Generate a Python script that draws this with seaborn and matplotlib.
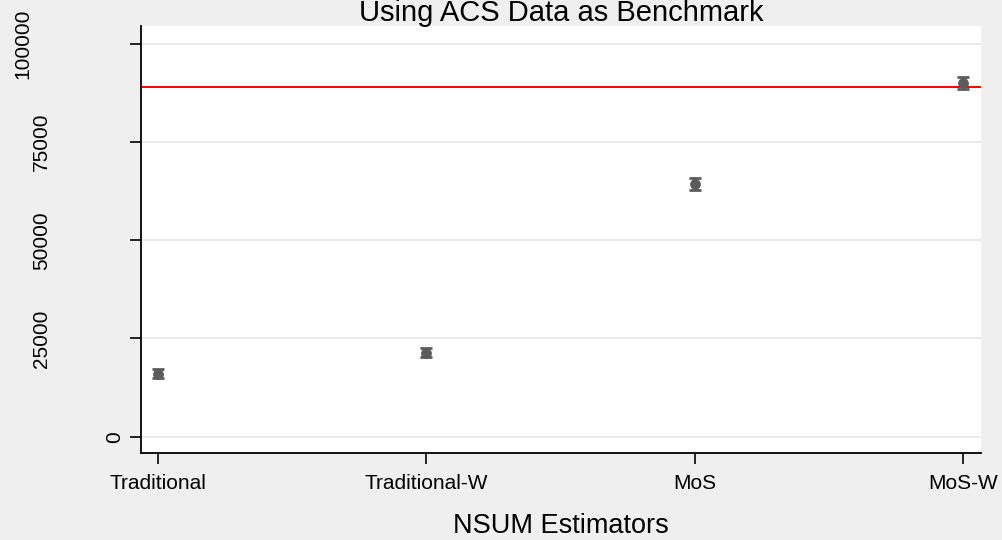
import numpy as np
import pandas as pd
import matplotlib
matplotlib.use("Agg")
import matplotlib.pyplot as plt
import matplotlib.transforms as mtransforms
import seaborn as sns

# ---- data ----
estimators = ["Traditional", "Traditional-W", "MoS", "MoS-W"]
estimates = [16000, 21400, 64300, 90000]
ci_halfwidth = [1100, 1100, 1500, 1600]
benchmark = 89000
y_ticks = [0, 25000, 50000, 75000, 100000]
y_tick_labels = ["0", "25000", "50000", "75000", "100000"]
title_text = "Using ACS Data as Benchmark"
x_label = "NSUM Estimators"

df = pd.DataFrame({"estimator": estimators, "estimate": estimates, "ci": ci_halfwidth})
df["pos"] = np.arange(len(df))

sns.set_theme(style="white")
plt.rcParams["font.family"] = ["Liberation Sans", "DejaVu Sans"]

bg = "#efefef"
fig = plt.figure(figsize=(10.03, 5.40), dpi=100, facecolor=bg)
W, H = 1003, 540
ax = fig.add_axes([141 / W, 1 - 453 / H, (981 - 141) / W, (453 - 26) / H])
ax.set_facecolor("white")

# grid lines
for yt in y_ticks:
    ax.axhline(yt, color="#e6e6e6", lw=1.2, zorder=0)

# benchmark line
ax.axhline(benchmark, color="#ff0000", lw=1.4, zorder=1)

# CI bars
ax.errorbar(df["pos"], df["estimate"], yerr=df["ci"], fmt="none",
            ecolor="#5c5c5c", elinewidth=1.4, capsize=4.2, capthick=2.0, zorder=2)
# points
sns.scatterplot(data=df, x="pos", y="estimate", ax=ax, color="#5c5c5c",
                s=52, edgecolor="#5c5c5c", linewidth=0.5, zorder=3, legend=False)

ax.set_xlim(-0.0645, 3.068)
ax.set_ylim(-4150, 104500)

ax.set_xticks(df["pos"])
ax.set_xticklabels(estimators, fontsize=15)
ax.set_yticks(y_ticks)
ax.set_yticklabels(y_tick_labels, fontsize=15, rotation=90, ha="center", va="center")

ax.tick_params(axis="both", direction="out", length=8, width=1.2, color="black",
               bottom=True, left=True, labelcolor="black")
ax.tick_params(axis="x", pad=7)
ax.tick_params(axis="y", pad=0)

for s in ["top", "right"]:
    ax.spines[s].set_visible(False)
for s in ["left", "bottom"]:
    ax.spines[s].set_color("black")
    ax.spines[s].set_linewidth(1.3)

# Stata-like horizontal placement of rotated y labels
for lab in ax.get_yticklabels():
    nd = len(lab.get_text())
    dx_px = -(15.4 + 18.3 * (nd - 1))
    off = mtransforms.ScaledTranslation(dx_px / 100, 0, fig.dpi_scale_trans)
    lab.set_transform(lab.get_transform() + off)

ax.set_xlabel(x_label, fontsize=19.5, color="black")
ax.xaxis.set_label_coords(0.5, (7 - 87) / 427)
ax.xaxis.label.set_va("baseline")
ax.set_ylabel("")

ax.text(0.5, (519.5 - 87) / 427, title_text, transform=ax.transAxes,
        ha="center", va="baseline", fontsize=21, color="black")

fig.savefig("out.png", dpi=100, facecolor=bg)
